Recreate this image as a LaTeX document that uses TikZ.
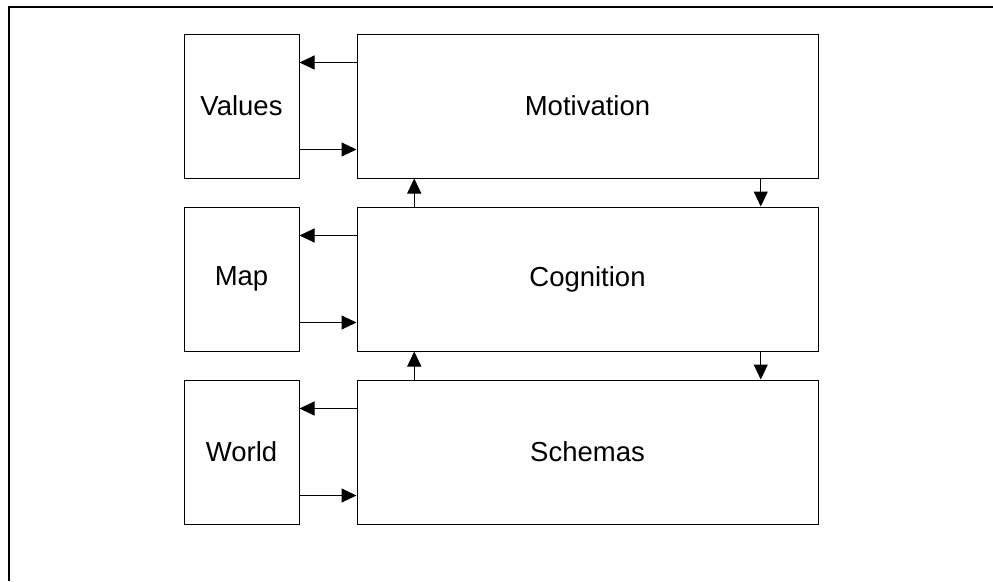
\documentclass[tikz,border=0pt]{standalone}
\usepackage{fontspec}
\setmainfont{Liberation Sans}
\usetikzlibrary{arrows.meta,calc,positioning}

\begin{document}
\begin{tikzpicture}[x=1pt, y=-1pt, >={Triangle[length=15pt,width=14pt]},
    font=\fontsize{27.5}{33}\selectfont, line width=1pt,
    small/.style={draw, minimum width=115pt, minimum height=144pt, inner sep=0pt},
    big/.style={draw, minimum width=461pt, minimum height=144pt, inner sep=0pt}]
    \useasboundingbox (0,0) rectangle (993,581);
    % cadre (bords haut et gauche seulement)
    \draw[line width=1.3pt] (9,581) -- (9,7) -- (993,7);
    % colonne de gauche et colonne de droite
    \node[small] (val) at (241.5,106) {Values};
    \node[small, below=28pt of val] (map) {Map};
    \node[small, below=28pt of map] (world) {World};
    \node[big, right=57pt of val] (mot) {Motivation};
    \node[big, right=57pt of map] (cog) {Cognition};
    \node[big, right=57pt of world] (sch) {Schemas};
    % flèches horizontales
    \foreach \s/\b in {val/mot, map/cog, world/sch} {
      \draw[->] ($(\b.north west)!0.2!(\b.south west)$) -- ($(\s.north east)!0.2!(\s.south east)$);
      \draw[->] ($(\s.north east)!0.8!(\s.south east)$) -- ($(\b.north west)!0.8!(\b.south west)$);
    }
    % flèches verticales
    \foreach \u/\l in {mot/cog, cog/sch} {
      \draw[->] ($(\l.north west)!0.125!(\l.north east)$) -- ($(\u.south west)!0.125!(\u.south east)$);
      \draw[->] ($(\u.south west)!0.875!(\u.south east)$) -- ($(\l.north west)!0.875!(\l.north east)$);
    }
\end{tikzpicture}
\end{document}
